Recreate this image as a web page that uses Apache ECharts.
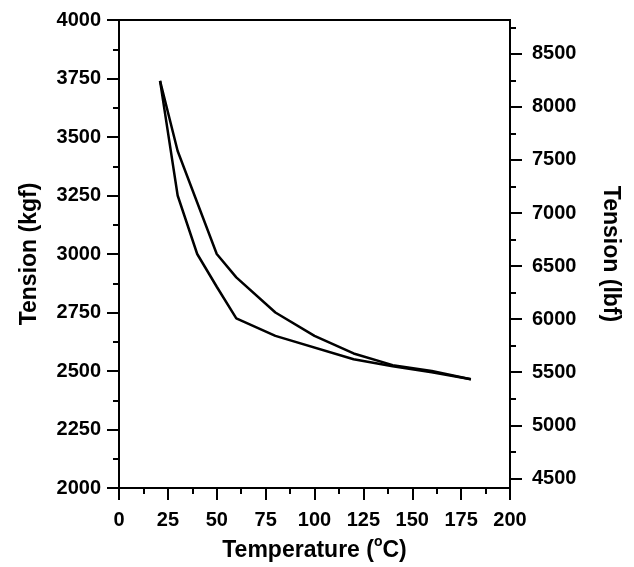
<!DOCTYPE html>
<html>
<head>
<meta charset="utf-8">
<script src="https://cdn.jsdelivr.net/npm/echarts@6/dist/echarts.min.js"></script>
<style>
  html, body { margin: 0; padding: 0; background: #fff; }
  #root { width: 634px; height: 567px; }
</style>
</head>
<body>
<div id="root"></div>
<script>
// lower branch of the loop
let tempLow = [21, 30, 40, 50, 60, 80, 120, 140, 160, 180];
let tensionLow = [3740, 3250, 3000, 2860, 2725, 2650, 2550, 2520, 2495, 2465];
// upper branch
let tempUp = [21, 30, 40, 50, 60, 80, 100, 120, 140, 160, 180];
let tensionUp = [3740, 3440, 3220, 3000, 2900, 2750, 2650, 2575, 2525, 2500, 2465];

let lbfTicks = [4500, 5000, 5500, 6000, 6500, 7000, 7500, 8000, 8500];
let lbfMinor = [4750, 5250, 5750, 6250, 6750, 7250, 7750, 8250, 8750];
let kgfToLbf = 2.20462;

function pairs(xs, ys) {
    return xs.map((x, i) => [x, ys[i]]);
}
function plain(v) {
    return String(Math.round(v));
}

let font = 'Liberation Sans';
let labelStyle = { color: '#000', fontFamily: font, fontWeight: 'bold', fontSize: 20, formatter: plain };
let nameStyle = { color: '#000', fontFamily: font, fontWeight: 'bold', fontSize: 23 };
let lineStyle = { color: '#000', width: 2 };

let root = document.getElementById('root');
let myChart = echarts.init(root, null, { renderer: 'canvas' });
let option = {
    animation: false,
    backgroundColor: '#fff',
    grid: {
        left: 119, right: 124, top: 20, bottom: 79,
        outerBoundsMode: 'none',
        show: true, borderColor: '#000', borderWidth: 2
    },
    xAxis: {
        type: 'value',
        min: 0, max: 200, interval: 25,
        name: 'Temperature ({sup|o}C)',
        nameLocation: 'middle',
        nameGap: 46,
        nameTextStyle: Object.assign({}, nameStyle, {
            lineHeight: 32,
            rich: { sup: { fontFamily: font, fontWeight: 'bold', fontSize: 14, lineHeight: 14, color: '#000', verticalAlign: 'top' } }
        }),
        axisLine: { lineStyle: lineStyle },
        axisTick: { length: 12, lineStyle: lineStyle },
        minorTick: { show: true, splitNumber: 2, length: 6, lineStyle: lineStyle },
        axisLabel: Object.assign({ margin: 22 }, labelStyle),
        splitLine: { show: false }
    },
    yAxis: [
        {
            type: 'value',
            min: 2000, max: 4000, interval: 250,
            name: 'Tension (kgf)',
            nameLocation: 'middle',
            nameGap: 78,
            nameTextStyle: nameStyle,
            axisLine: { lineStyle: lineStyle },
            axisTick: { length: 12, lineStyle: lineStyle },
            minorTick: { show: true, splitNumber: 2, length: 6, lineStyle: lineStyle },
            axisLabel: Object.assign({ margin: 18 }, labelStyle),
            splitLine: { show: false }
        },
        {
            type: 'value',
            position: 'right',
            min: 2000 * kgfToLbf, max: 4000 * kgfToLbf,
            alignTicks: false,
            name: 'Tension (lbf)',
            nameLocation: 'middle',
            nameRotate: -90,
            nameGap: 89,
            nameTextStyle: nameStyle,
            axisLine: { show: true, lineStyle: lineStyle },
            axisTick: { show: true, length: 12, lineStyle: lineStyle, customValues: lbfTicks },
            axisLabel: Object.assign({ margin: 22, customValues: lbfTicks }, labelStyle),
            splitLine: { show: false }
        },
        {
            type: 'value',
            position: 'right',
            min: 2000 * kgfToLbf, max: 4000 * kgfToLbf,
            alignTicks: false,
            axisLine: { show: false },
            axisTick: { show: true, length: 6, lineStyle: lineStyle, customValues: lbfMinor },
            axisLabel: { show: false },
            splitLine: { show: false }
        }
    ],
    series: [
        {
            name: 'lower',
            type: 'line',
            yAxisIndex: 0,
            symbol: 'none',
            lineStyle: { color: '#000', width: 2.5 },
            data: pairs(tempLow, tensionLow)
        },
        {
            name: 'upper',
            type: 'line',
            yAxisIndex: 0,
            symbol: 'none',
            lineStyle: { color: '#000', width: 2.5 },
            data: pairs(tempUp, tensionUp)
        }
    ]
};
myChart.setOption(option);
</script>
</body>
</html>
